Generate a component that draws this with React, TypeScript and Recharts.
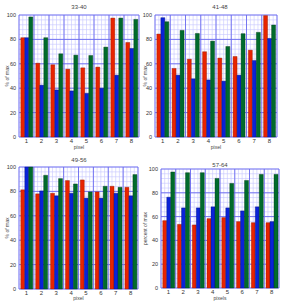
import React from 'react';
import { BarChart, Bar, XAxis, YAxis, CartesianGrid, Label } from 'recharts';

const categories = ['1', '2', '3', '4', '5', '6', '7', '8'];
const titles = ['33-40', '41-48', '49-56', '57-64'];

const p1Red = [81.4, 60.5, 59.2, 55.6, 56.7, 57.3, 97.5, 77.5];
const p1Blue = [81.4, 42.5, 38.6, 37.8, 35.8, 40.0, 50.7, 72.6];
const p1Green = [98.4, 81.4, 68.2, 67.1, 66.8, 73.7, 97.5, 96.4];

const p2Red = [84.4, 56.2, 63.8, 69.9, 64.7, 66.0, 71.2, 99.5];
const p2Blue = [97.8, 50.7, 47.7, 46.8, 45.8, 50.7, 62.7, 80.8];
const p2Green = [94.5, 87.4, 84.9, 78.6, 74.2, 84.7, 85.8, 91.8];

const p3Red = [81.3, 78.0, 78.5, 88.9, 89.4, 79.6, 84.2, 83.4];
const p3Blue = [100, 80.4, 76.4, 78.5, 74.5, 74.5, 78.5, 76.4];
const p3Green = [100, 93.2, 90.5, 86.1, 79.6, 84.2, 83.4, 93.8];

const p4Red = [56.6, 53.5, 53.0, 58.3, 59.2, 55.8, 54.9, 54.9];
const p4Blue = [76.3, 67.3, 67.3, 68.2, 67.3, 64.8, 68.2, 55.8];
const p4Green = [97.5, 96.9, 96.9, 92.1, 87.9, 90.4, 95.5, 95.5];

const yTicks = [0, 20, 40, 60, 80, 100];
const minorY = [0, 4, 8, 12, 16, 20, 24, 28, 32, 36, 40, 44, 48, 52, 56, 60, 64, 68, 72, 76, 80, 84, 88, 92, 96, 100];

const build = (r: number[], b: number[], g: number[]) =>
  categories.map((c, i) => ({ c, r: r[i], b: b[i], g: g[i] }));

const FONT = '"Liberation Sans", Arial, sans-serif';

type PanelProps = {
  left: number; top: number; width: number; height: number;
  margin: { top: number; right: number; left: number; bottom: number };
  yWidth: number; xHeight: number;
  data: any[]; ylabel: string; xlabel: string; ylabelOffset: number;
  title: string; titleX: number; titleY: number;
};

const yGen = (minor: boolean) => (props: any) => {
  const vals = minor ? minorY : yTicks;
  const { offset } = props;
  return vals.map((v) => offset.top + offset.height * (1 - v / 100));
};
const xGen = (minor: boolean) => (props: any) => {
  const { offset } = props;
  const n = minor ? 32 : 8;
  const out: number[] = [];
  for (let k = 0; k <= n; k++) out.push(offset.left + (offset.width * k) / n);
  return out;
};

const Panel = (p: PanelProps) => (
  <div style={{ position: 'absolute', left: p.left, top: p.top, width: p.width, height: p.height }}>
    <div style={{ position: 'absolute', left: p.titleX - p.left - 20, top: p.titleY - p.top - 4, width: 40, textAlign: 'center', fontFamily: FONT, fontSize: 6, color: '#444', lineHeight: '8px' }}>{p.title}</div>
    <BarChart width={p.width} height={p.height} data={p.data} margin={p.margin} barCategoryGap="12%" barGap={0}>
      <CartesianGrid stroke="#c6c6ff" strokeWidth={0.6} horizontalCoordinatesGenerator={yGen(true)} verticalCoordinatesGenerator={xGen(true)} />
      <CartesianGrid stroke="#6a6aee" strokeWidth={0.9} horizontalCoordinatesGenerator={yGen(false)} verticalCoordinatesGenerator={xGen(false)} />
      <XAxis dataKey="c" height={p.xHeight} axisLine={false} tickLine={false} tickSize={0} tickMargin={2} interval={0}
        tick={{ fontSize: 6, fill: '#333', fontFamily: FONT }}>
        <Label value={p.xlabel} position="insideBottom" offset={1} style={{ fontSize: 5, fill: '#444', fontFamily: FONT }} />
      </XAxis>
      <YAxis domain={[0, 100]} ticks={yTicks} width={p.yWidth} axisLine={false} tickLine={false} tickSize={0} tickMargin={3}
        tick={{ fontSize: 5.5, fill: '#333', fontFamily: FONT }}>
        <Label value={p.ylabel} angle={-90} position="insideLeft" offset={p.ylabelOffset} style={{ fontSize: 5, fill: '#444', fontFamily: FONT, textAnchor: 'middle' }} />
      </YAxis>
      <Bar dataKey="r" fill="#e82400" stroke="#8a1800" strokeWidth={0.4} isAnimationActive={false} />
      <Bar dataKey="b" fill="#0a22d8" stroke="#06127a" strokeWidth={0.4} isAnimationActive={false} />
      <Bar dataKey="g" fill="#006b2c" stroke="#003a16" strokeWidth={0.4} isAnimationActive={false} />
    </BarChart>
  </div>
);

export default function App() {
  return (
    <div style={{ position: 'absolute', left: 0, top: 0, width: 287, height: 301, background: '#fff' }}>
      <Panel left={0} top={0} width={145} height={150} margin={{ top: 15, right: 6, left: 5, bottom: 0 }}
        yWidth={14} xHeight={13} data={build(p1Red, p1Blue, p1Green)} ylabel="% of max" xlabel="pixel" ylabelOffset={2}
        title={titles[0]} titleX={79} titleY={7} />
      <Panel left={142} top={0} width={145} height={150} margin={{ top: 15, right: 10, left: 0, bottom: 0 }}
        yWidth={13} xHeight={13} data={build(p2Red, p2Blue, p2Green)} ylabel="% of max" xlabel="pixel" ylabelOffset={3}
        title={titles[1]} titleX={220} titleY={7} />
      <Panel left={0} top={150} width={145} height={151} margin={{ top: 17, right: 7, left: 5, bottom: 0 }}
        yWidth={14} xHeight={12} data={build(p3Red, p3Blue, p3Green)} ylabel="% of max" xlabel="pixel" ylabelOffset={2}
        title={titles[2]} titleX={79} titleY={160} />
      <Panel left={142} top={150} width={145} height={151} margin={{ top: 19, right: 8, left: 0, bottom: 0 }}
        yWidth={19} xHeight={13} data={build(p4Red, p4Blue, p4Green)} ylabel="percent of max" xlabel="pixels" ylabelOffset={3}
        title={titles[3]} titleX={220} titleY={165} />
    </div>
  );
}
